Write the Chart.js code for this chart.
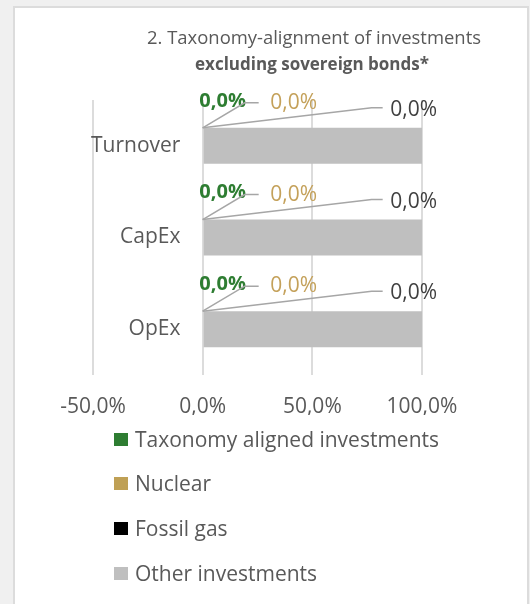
<!DOCTYPE html>
<html><head><meta charset="utf-8">
<script src="https://cdn.jsdelivr.net/npm/chart.js@4"></script>
<style>
html,body{margin:0;padding:0;background:#f0f0f0;width:530px;height:604px;overflow:hidden;font-family:"Open Sans",sans-serif}
#panel{position:absolute;left:13px;top:6px;width:516px;height:620px;background:#fff;border:2px solid #dcdcdc;box-sizing:border-box}
#wrap{position:absolute;left:0;top:0;width:530px;height:604px}
#legend{position:absolute;left:114px;top:0}
.li{position:absolute;left:0;white-space:nowrap;display:flex;align-items:center;height:28px;font-size:21px;color:#595959;line-height:28px}
.sw{width:14px;height:13px;margin-right:7px;flex:none}
</style></head><body>
<div id="panel"></div>
<div id="wrap"><canvas id="c" width="530" height="604" style="width:530px;height:604px"></canvas></div>
<div id="legend"></div>
<script>
const categories = ['Turnover', 'CapEx', 'OpEx'];
const seriesNames = ['Taxonomy aligned investments', 'Nuclear', 'Fossil gas', 'Other investments'];
const taxonomyAligned = [0, 0, 0];
const nuclear = [0, 0, 0];
const fossilGas = [0, 0, 0];
const otherInvestments = [100, 100, 100];
const xTickValues = [-50, 0, 50, 100];
const titleLines = ['2. Taxonomy-alignment of investments', 'excluding sovereign bonds*'];

const seriesColors = ['#2E7D32', '#BFA055', '#000000', '#BFBFBF'];
const labelColors = ['#2E7D32', '#C4A15A', '#404040'];
const FONT = '"Open Sans", sans-serif';
const fmt = v => Number(v).toFixed(1).replace('.', ',') + '%';

const titlePlugin = {
  id: 'customTitle',
  afterDraw(chart) {
    const ctx = chart.ctx;
    ctx.save();
    ctx.fillStyle = '#595959';
    ctx.textAlign = 'center';
    ctx.textBaseline = 'middle';
    ctx.font = '18.5px ' + FONT;
    ctx.fillText(titleLines[0], 314, 39, 334);
    ctx.font = 'bold 17px ' + FONT;
    ctx.fillText(titleLines[1], 312, 65, 234);
    ctx.restore();
  }
};

// label offsets relative to the start (top-left) of each category's stacked bar
const labelStyle = [
  { dx: 20, dy: -27, bold: true, leader: null },
  { dx: 91, dy: -25, bold: false, leader: [[42, -25], [56, -25]] },
  { dx: 211, dy: -18, bold: false, leader: [[169, -20], [180, -20]] }
];

const leaderLabels = {
  id: 'leaderLabels',
  afterDatasetsDraw(chart) {
    const ctx = chart.ctx;
    ctx.save();
    for (let d = 0; d < 3; d++) {
      const meta = chart.getDatasetMeta(d);
      const st = labelStyle[d];
      meta.data.forEach((el, i) => {
        const props = el.getProps(['x', 'y', 'base', 'height'], true);
        const ax = Math.min(props.base, props.x);
        const ay = props.y - props.height / 2;
        if (st.leader) {
          ctx.strokeStyle = '#A6A6A6';
          ctx.lineWidth = 1.5;
          ctx.beginPath();
          ctx.moveTo(ax, ay);
          st.leader.forEach(p => ctx.lineTo(ax + p[0], ay + p[1]));
          ctx.stroke();
        }
        ctx.fillStyle = labelColors[d];
        ctx.font = (st.bold ? 'bold 20px ' : '21px ') + FONT;
        ctx.textAlign = 'center';
        ctx.textBaseline = 'middle';
        ctx.fillText(fmt(chart.data.datasets[d].data[i]), ax + st.dx, ay + st.dy);
      });
    }
    ctx.restore();
  }
};

const seriesData = [taxonomyAligned, nuclear, fossilGas, otherInvestments];

const chart = new Chart(document.getElementById('c'), {
  type: 'bar',
  data: {
    labels: categories,
    datasets: seriesNames.map((name, k) => ({
      label: name,
      data: seriesData[k],
      backgroundColor: seriesColors[k],
      borderWidth: 0,
      categoryPercentage: 0.4,
      barPercentage: 0.98
    }))
  },
  options: {
    indexAxis: 'y',
    responsive: false,
    animation: false,
    events: [],
    layout: { padding: { left: 93, right: 108, top: 100, bottom: 189 } },
    plugins: { legend: { display: false }, title: { display: false }, tooltip: { enabled: false } },
    scales: {
      x: {
        type: 'linear',
        stacked: true,
        min: -50,
        max: 100,
        afterBuildTicks: s => { s.ticks = xTickValues.map(v => ({ value: v })); },
        afterFit: s => { s.height = 40; },
        grid: { color: '#dcdcdc', lineWidth: 2, drawTicks: false },
        border: { display: false },
        ticks: { color: '#595959', font: { family: FONT, size: 21 }, padding: 19, callback: v => fmt(v), maxRotation: 0 }
      },
      y: {
        stacked: true,
        grid: { display: false, drawTicks: false },
        border: { display: false },
        afterFit: s => { s.width = 0; },
        ticks: { mirror: true, crossAlign: 'far', padding: -2, color: '#595959', font: { family: FONT, size: 21 } }
      }
    }
  },
  plugins: [titlePlugin, leaderLabels]
});

// legend built from the chart's datasets
const legendEl = document.getElementById('legend');
const legendCenters = [439, 483, 528, 573];
chart.data.datasets.forEach((ds, k) => {
  const item = document.createElement('div');
  item.className = 'li';
  item.style.top = (legendCenters[k] - 14) + 'px';
  const sw = document.createElement('span');
  sw.className = 'sw';
  sw.style.background = ds.backgroundColor;
  const tx = document.createElement('span');
  tx.textContent = ds.label;
  item.appendChild(sw);
  item.appendChild(tx);
  legendEl.appendChild(item);
});
</script>
</body></html>
